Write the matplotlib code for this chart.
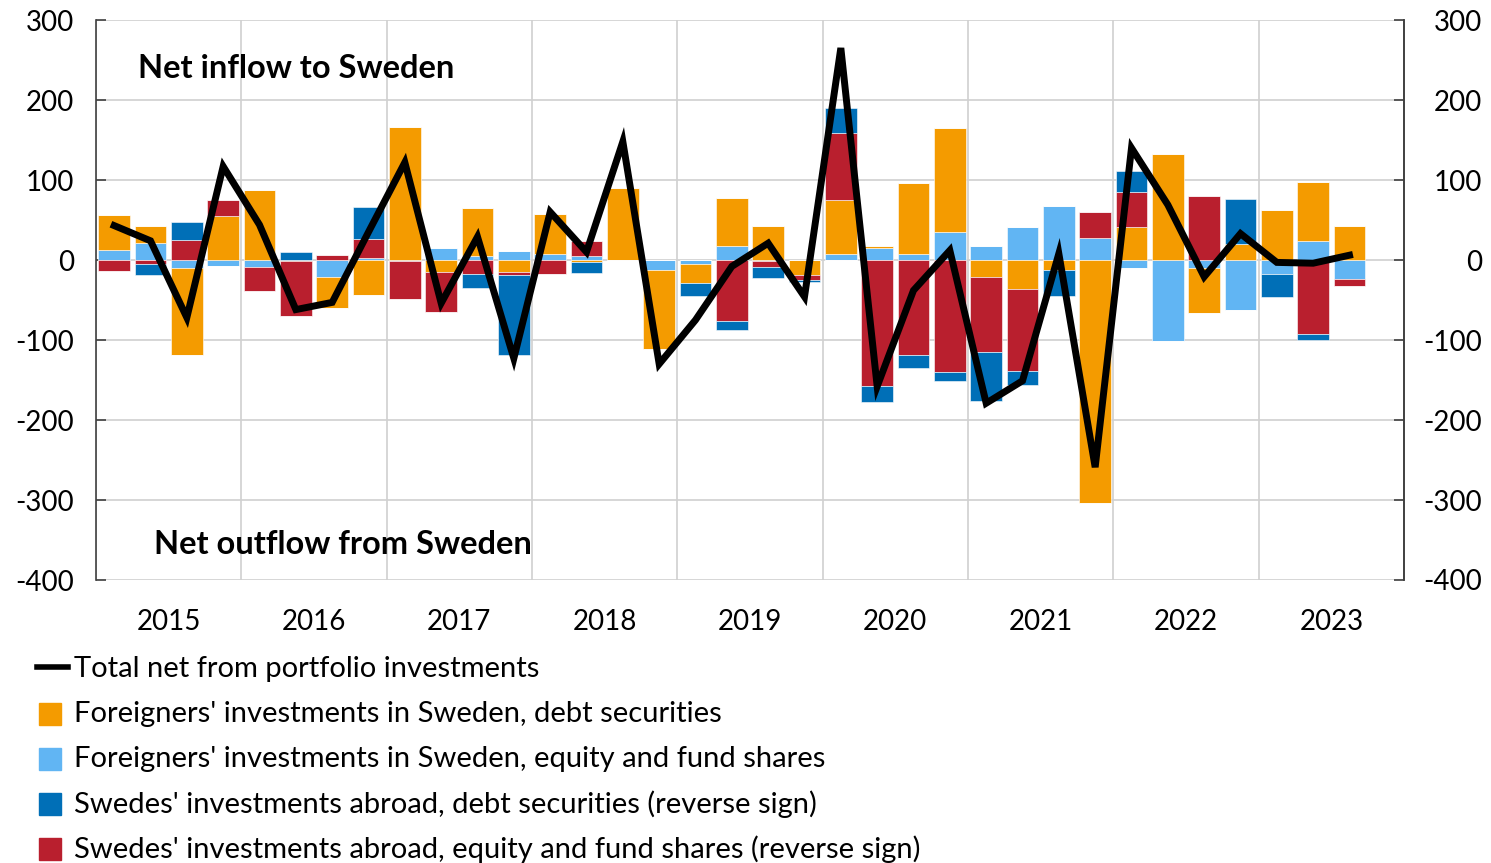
import matplotlib
matplotlib.use("Agg")
import matplotlib.pyplot as plt
import numpy as np
from matplotlib.patches import Rectangle
from matplotlib.lines import Line2D

plt.rcParams['font.family'] = ['Lato', 'DejaVu Sans']
plt.rcParams['axes.unicode_minus'] = False

years = ['2015', '2016', '2017', '2018', '2019', '2020', '2021', '2022', '2023']
quarters = [f"{y}Q{q}" for y in years for q in range(1, 5)][:35]

foreign_debt = [43.5, 22, -109.5, 55, 88, -1.5, -39, -44,
                166, -15, 60, -15, 50, -2.5, 90, -98,
                -24, 60, 43, -19, 67, 2.5, 89, 130,
                -21, -36, -12.5, -304, 41, 132, -56, 20,
                62, 73, 42]
foreign_equity = [12.5, 21, -9.6, -7, -9, 0, -21, 3,
                  -1.7, 15, 5, 11, 7, 5.4, 0, -13,
                  -5, 18, -1, 0, 8, 15, 7.5, 35,
                  17.5, 41, 67, 28, -10, -101, -10, -62.5,
                  -17.5, 24, -24]
swedes_debt = [0, -14, 22, 0, 0, 10, 0, 40,
               0, 0, -18, -100, 0, -13.5, 0, 0,
               -16, -11.5, -13, -3, 31, -20, -16, -11,
               -61, -17, -32.5, 0, 26, 0, 0, 56,
               -28.5, -7.5, 0]
swedes_equity = [-14, -5, 25, 20, -30, -68.5, 6, 23,
                 -47, -50, -17, -4, -18, 18.6, 0, 0,
                 0, -76, -8, -6, 84, -157, -119, -140,
                 -94, -103, 0, 32, 44, 0, 80, 0,
                 0, -92.5, -9]
total_net = [43, 24, -72, 117, 44, -62, -53, 35,
             122, -54, 29, -123, 60, 10, 148, -130,
             -75, -8, 21, -46, 265, -158, -38, 12,
             -179, -151, 8, -259, 140, 69, -21, 33,
             -3, -4, 6]

labels = {
    'line': "Total net from portfolio investments",
    'fd': "Foreigners' investments in Sweden, debt securities",
    'fe': "Foreigners' investments in Sweden, equity and fund shares",
    'sd': "Swedes' investments abroad, debt securities (reverse sign)",
    'se': "Swedes' investments abroad, equity and fund shares (reverse sign)",
}
colors = {'fd': '#F49B00', 'fe': '#61B5F3', 'sd': '#006FB7', 'se': '#B91F2E'}

W, H = 1491, 863
fig = plt.figure(figsize=(W / 100, H / 100), dpi=100)
ax = fig.add_axes([96 / W, 1 - 580 / H, (1404 - 96) / W, 560 / H])

x = np.arange(len(quarters))
# stacking order observed: light blue, orange, red, dark blue
stack = [('fe', foreign_equity), ('fd', foreign_debt), ('se', swedes_equity), ('sd', swedes_debt)]
pos_base = np.zeros(len(x))
neg_base = np.zeros(len(x))
for key, vals in stack:
    v = np.array(vals, dtype=float)
    p = np.where(v > 0, v, 0)
    n = np.where(v < 0, v, 0)
    ax.bar(x, p, bottom=pos_base, width=0.88, color=colors[key],
           edgecolor='white', linewidth=0.4, zorder=2)
    ax.bar(x, n, bottom=neg_base, width=0.88, color=colors[key],
           edgecolor='white', linewidth=0.4, zorder=2)
    pos_base += p
    neg_base += n

ax.plot(x, total_net, color='black', lw=5, zorder=3, solid_joinstyle='miter')

ax.set_xlim(-0.5, 35.5)
ax.set_ylim(-400, 300)
ax.set_yticks(np.arange(-400, 301, 100))
ax.set_xticks(np.arange(-0.5, 36, 4))
ax.set_xticklabels([])
ax.set_xticks(np.arange(1.5, 36, 4), minor=True)
ax.set_xticklabels(years, minor=True)
ax.tick_params(axis='x', which='both', length=0)
ax.tick_params(axis='x', which='minor', labelsize=20, pad=21)
ax.tick_params(axis='y', direction='in', length=7, width=1.2, labelsize=20, pad=16,
               color='#404040')
ax.grid(True, which='major', color='#d0d0d0', lw=1.2, zorder=0)
ax.set_axisbelow(True)
for s in ['top', 'bottom']:
    ax.spines[s].set_visible(False)
for s in ['left', 'right']:
    ax.spines[s].set_color('#404040')
    ax.spines[s].set_linewidth(1.2)

ax2 = ax.twinx()
ax2.set_ylim(ax.get_ylim())
ax2.set_yticks(np.arange(-400, 301, 100))
ax2.tick_params(axis='y', direction='in', length=7, width=1.2, labelsize=20, pad=56,
                color='#404040')
for lab in ax2.get_yticklabels():
    lab.set_horizontalalignment('right')
for s in ['top', 'bottom', 'left']:
    ax2.spines[s].set_visible(False)
ax2.spines['right'].set_color('#404040')
ax2.spines['right'].set_linewidth(1.2)

ax.text(0.153, 0.914, "Net inflow to Sweden", transform=ax.transAxes,
        ha='center', va='center', fontsize=23.5, fontweight='bold')
ax.text(0.189, 0.064, "Net outflow from Sweden", transform=ax.transAxes,
        ha='center', va='center', fontsize=23.5, fontweight='bold')

# legend (manual)
rows_y = [669, 714, 759, 804, 849]
fig.add_artist(Line2D([37 / W, 68 / W], [1 - 667 / H] * 2, color='black', lw=4))
fig.text(74 / W, 1 - rows_y[0] / H, labels['line'], fontsize=21, va='center', ha='left')
for yy, key in zip(rows_y[1:], ['fd', 'fe', 'sd', 'se']):
    fig.add_artist(Rectangle((39 / W, 1 - (yy + 11) / H), 22 / W, 22 / H,
                             color=colors[key], transform=fig.transFigure))
    fig.text(74 / W, 1 - yy / H, labels[key], fontsize=21, va='center', ha='left')

fig.savefig('out.png', dpi=100)
